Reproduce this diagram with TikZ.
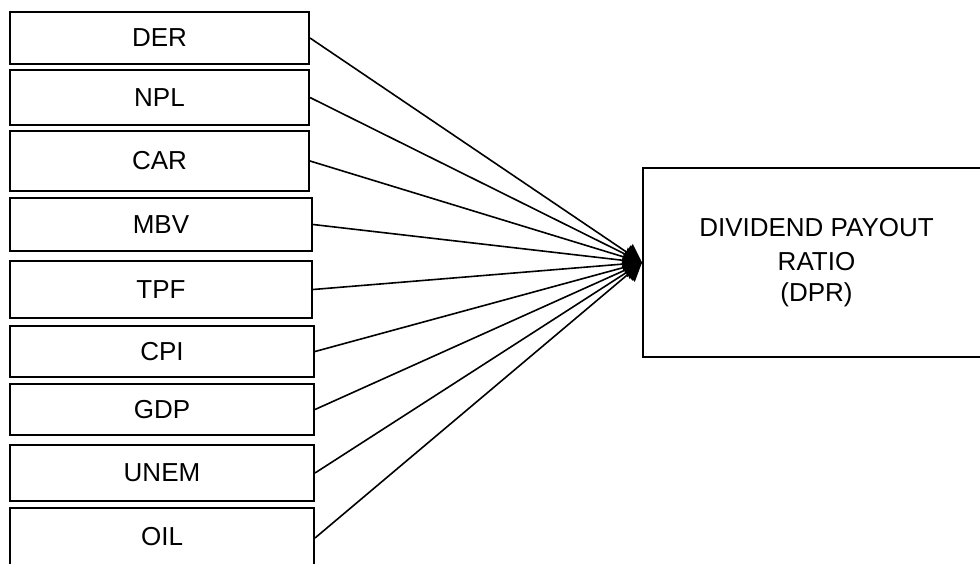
\documentclass[tikz,border=0pt]{standalone}
\usepackage{fontspec}
\setmainfont{Liberation Sans}
\usetikzlibrary{arrows.meta}

\begin{document}
\begin{tikzpicture}[x=0.5pt, y=-0.5pt,
    varbox/.style={draw, line width=1pt, inner sep=0pt, font=\fontsize{13}{15.5}\selectfont},
    link/.style={line width=0.8pt, -{Triangle[length=9pt, width=10pt]}}]

    % Fix the size of the page
    \useasboundingbox (0,0) rectangle (980,563);

    % Draw the boxes of the explanatory variables
    \node[varbox, minimum width=149.5pt, minimum height=26pt] (der) at (159.5,38) {DER};
    \node[varbox, minimum width=149.5pt, minimum height=27.5pt] (npl) at (159.5,97.5) {NPL};
    \node[varbox, minimum width=149.5pt, minimum height=30pt] (car) at (159.5,161) {CAR};
    \node[varbox, minimum width=151pt, minimum height=26.5pt] (mbv) at (161,224.5) {MBV};
    \node[varbox, minimum width=151pt, minimum height=28.5pt] (tpf) at (161,289.5) {TPF};
    \node[varbox, minimum width=152pt, minimum height=25.5pt] (cpi) at (162,351.5) {CPI};
    \node[varbox, minimum width=152pt, minimum height=25.5pt] (gdp) at (162,409.5) {GDP};
    \node[varbox, minimum width=152pt, minimum height=28pt] (unem) at (162,473) {UNEM};
    \node[varbox, minimum width=152pt, minimum height=30pt] (oil) at (162,538) {\raisebox{1.5pt}{OIL}};

    % Draw the box of the dependent variable
    \node[varbox, minimum width=173.5pt, minimum height=94.5pt, align=center] (dpr) at (816.5,262.5)
        {\raisebox{1.5pt}{DIVIDEND PAYOUT}\\RATIO\\(DPR)};

    % Connect every variable to the dividend payout ratio
    \foreach \v in {der,npl,car,mbv,tpf,cpi,gdp,unem,oil}
        \draw[link] (\v.east) -- (dpr.west);

\end{tikzpicture}
\end{document}
